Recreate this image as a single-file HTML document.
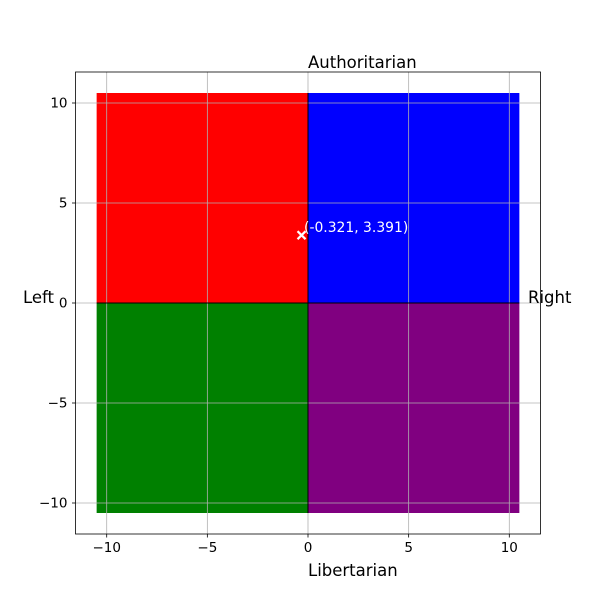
<!DOCTYPE html>
<html><head><meta charset="utf-8"><style>body{margin:0;background:#fff}svg{display:block}text{font-family:"DejaVu Sans","Liberation Sans",sans-serif}</style></head>
<body>
<svg id="c" width="600" height="600"></svg>
<script>
const quadrantNames=['authoritarian-left','authoritarian-right','libertarian-left','libertarian-right'];
const quadrantX0=[-10.5,0,-10.5,0];
const quadrantX1=[0,10.5,0,10.5];
const quadrantY0=[0,0,-10.5,-10.5];
const quadrantY1=[10.5,10.5,0,0];
const quadrantColors=['#ff0000','#0000ff','#008000','#800080'];
const xTicks=[-10,-5,0,5,10];
const yTicks=[-10,-5,0,5,10];
const pointX=[-0.321];
const pointY=[3.391];
const pointLabels=['(-0.321, 3.391)'];

const L=75.5,R=540.5,T=72,B=534,lim=11.55;
const sx=v=>L+(v+lim)/(2*lim)*(R-L);
const sy=v=>B-(v+lim)/(2*lim)*(B-T);
const svg=document.getElementById('c');const NS='http://www.w3.org/2000/svg';
function mk(tag,a,txt){const e=document.createElementNS(NS,tag);for(const k in a)e.setAttribute(k,a[k]);if(txt!=null)e.textContent=txt;svg.appendChild(e);return e;}
quadrantNames.forEach((n,i)=>{const e=mk('rect',{x:sx(quadrantX0[i]),y:sy(quadrantY1[i]),width:sx(quadrantX1[i])-sx(quadrantX0[i]),height:sy(quadrantY0[i])-sy(quadrantY1[i]),fill:quadrantColors[i]});

});
xTicks.forEach(t=>{const g=mk('line',{x1:sx(t),x2:sx(t),y1:T,y2:B,stroke:'#b0b0b0','stroke-width':0.8});


const k=mk('line',{x1:sx(t),x2:sx(t),y1:B,y2:B+3.5,stroke:'#000','stroke-width':0.8});


const l=mk('text',{x:sx(t),y:B+18,'font-size':13.5,'text-anchor':'middle'},String(t).replace('-','\u2212'));

});
yTicks.forEach(t=>{const g=mk('line',{x1:L,x2:R,y1:sy(t),y2:sy(t),stroke:'#b0b0b0','stroke-width':0.8});


const k=mk('line',{x1:L-3.5,x2:L,y1:sy(t),y2:sy(t),stroke:'#000','stroke-width':0.8});


const l=mk('text',{x:L-8,y:sy(t)+4.5,'font-size':13.5,'text-anchor':'end'},String(t).replace('-','\u2212'));

});
const h=mk('line',{x1:sx(-10.5),x2:sx(10.5),y1:sy(0),y2:sy(0),stroke:'#000','stroke-width':1});


const v=mk('line',{x1:sx(0),x2:sx(0),y1:sy(10.5),y2:sy(-10.5),stroke:'#000','stroke-width':1});


const f=mk('rect',{x:L,y:T,width:R-L,height:B-T,fill:'none',stroke:'#000','stroke-width':0.8});


pointX.forEach((px,i)=>{const cx=sx(px),cy=sy(pointY[i]),s=4;
const m=mk('path',{d:`M${cx-s},${cy-s}L${cx+s},${cy+s}M${cx-s},${cy+s}L${cx+s},${cy-s}`,stroke:'#fff','stroke-width':2.2});


const t=mk('text',{x:cx+2.5,y:cy-3,'font-size':13.9,fill:'#fff'},pointLabels[i]);

});
[['Authoritarian',308,68,'start','top-axis-label'],['Libertarian',308,576,'start','bottom-axis-label'],['Left',54,303,'end','left-axis-label'],['Right',528,303,'start','right-axis-label']].forEach(a=>{
const t=mk('text',{x:a[1],y:a[2],'font-size':16.5,'text-anchor':a[3]},a[0]);

});
</script>
</body></html>
